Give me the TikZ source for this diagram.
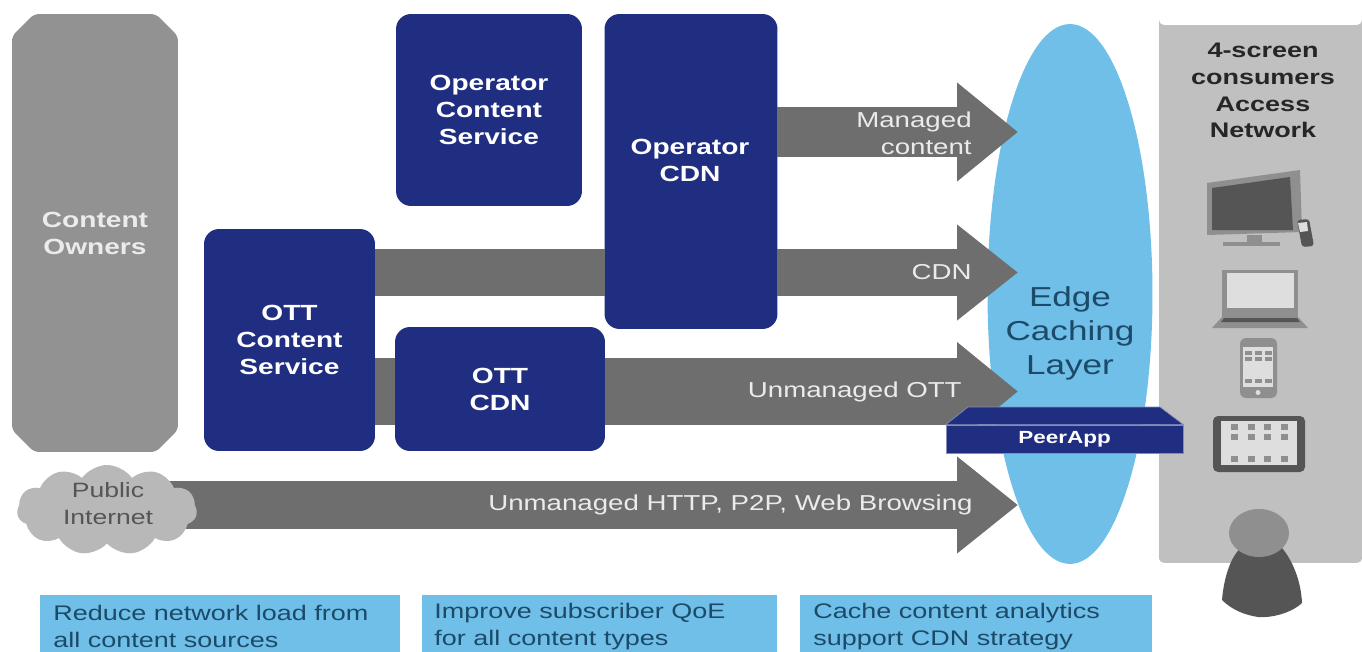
\documentclass[tikz,border=0pt]{standalone}
\usepackage{fontspec}
\setmainfont[FakeStretch=1.28]{Liberation Sans}
\usepackage{tikz}
\usetikzlibrary{arrows.meta, shapes.geometric, shapes.misc, shapes.symbols}

\definecolor{navyfill}{HTML}{1F2E80}
\definecolor{edgeblue}{HTML}{6FBFE8}
\definecolor{arrowgrey}{HTML}{6E6E6E}
\definecolor{ownergrey}{HTML}{929292}
\definecolor{panelgrey}{HTML}{C0C0C0}
\definecolor{cloudgrey}{HTML}{B8B8B8}
\definecolor{darkgrey}{HTML}{555555}
\definecolor{midgrey}{HTML}{8F8F8F}
\definecolor{screengrey}{HTML}{DEDEDE}
\definecolor{paletext}{HTML}{EBEBEB}
\definecolor{tealtext}{HTML}{1C4A68}

\tikzset{
    navybox/.style={fill=navyfill, rectangle, rounded corners=0.3cm, inner sep=0pt, outer sep=0pt, align=center, text=white, font=\fontsize{12.5}{15.3}\selectfont\bfseries},
    snipbox/.style={chamfered rectangle, chamfered rectangle xsep=0.24cm, chamfered rectangle ysep=0.2cm, rounded corners=0.1cm, inner sep=0pt, outer sep=0pt},
    notebox/.style={fill=edgeblue, rectangle, inner sep=0pt, outer sep=0pt, minimum height=1.14cm},
    notetext/.style={anchor=west, align=left, text=tealtext, inner sep=0pt, font=\fontsize{12}{15.3}\selectfont},
    arrowlabel/.style={anchor=east, align=right, text=paletext, inner sep=0pt, font=\fontsize{12.3}{15.3}\selectfont},
    bigband/.style={draw=arrowgrey, line width=#1},
    bigarrow/.style 2 args={draw=arrowgrey, line width=#1, -{Triangle[length=1.22cm, width=#2]}},
    icon/.style={rounded corners=0.06cm},
    dot/.style={fill=midgrey, rectangle, inner sep=0pt, minimum width=0.14cm, minimum height=0.12cm}
}

\begin{document}
\begin{tikzpicture}[x=0.02cm, y=-0.02cm]
    \useasboundingbox (0, 0) rectangle (1362, 652);

    \node[fill=edgeblue, ellipse, inner sep=0pt, minimum width=3.3cm, minimum height=10.8cm] at (1070, 294) (edge) {};
    \node[fill=panelgrey, snipbox, minimum width=4.06cm, minimum height=10.76cm] at (1260.5, 294) (panel) {};
    \node[fill=ownergrey, snipbox, align=center, text=paletext, font=\fontsize{12.5}{15.3}\selectfont\bfseries, minimum width=3.32cm, minimum height=8.76cm] at (95, 233) (owners) {Content\\Owners};

    \node[navybox, minimum width=3.72cm, minimum height=3.84cm] at (489, 110) (opservice) {Operator\\Content\\Service};
    \node[navybox, minimum width=3.46cm, minimum height=6.3cm] at (691, 171.5) (opcdn) {};
    \node[navybox] at (690, 160) (opcdnlabel) {Operator\\CDN};
    \node[navybox, minimum width=3.42cm, minimum height=4.44cm] at (289.5, 340) (ottservice) {OTT\\Content\\Service};
    \node[navybox, minimum width=4.2cm, minimum height=2.48cm] at (500, 389) (ottcdn) {OTT\\CDN};

    \coordinate (managedtip) at (1018, 132);
    \coordinate (cdntip) at (1018, 272.5);
    \coordinate (otttip) at (1018, 391.5);
    \coordinate (publictip) at (1018, 505);
    \coordinate (cloudcentre) at (107, 510);

    \draw[bigarrow={1.02cm}{1.9cm}] (opcdn.east |- managedtip) -- (managedtip);
    \draw[bigband=0.94cm] (ottservice.east |- cdntip) -- (opcdn.west |- cdntip);
    \draw[bigarrow={0.94cm}{1.84cm}] (opcdn.east |- cdntip) -- (cdntip);
    \draw[bigband=1.34cm] (ottservice.east |- otttip) -- (ottcdn.west |- otttip);
    \draw[bigarrow={1.34cm}{1.9cm}] (ottcdn.east |- otttip) -- (otttip);
    \draw[bigarrow={0.96cm}{1.86cm}] (cloudcentre |- publictip) -- (publictip);

    \node[fill=cloudgrey, cloud, cloud puffs=11, cloud puff arc=110, aspect=2, inner sep=0pt, minimum width=3.6cm, minimum height=1.8cm] at (cloudcentre) (cloud) {};
    \node[align=center, text=darkgrey, inner sep=0pt, font=\fontsize{11.8}{15.3}\selectfont] at (108, 504) (cloudlabel) {Public\\Internet};

    \node[arrowlabel] at (972, 133.5) (managedlabel) {Managed\\content};
    \node[arrowlabel] at (972, 272) (cdnlabel) {CDN};
    \node[arrowlabel] at (962, 392) (ottlabel) {Unmanaged OTT};
    \node[arrowlabel] at (973, 505) (publiclabel) {Unmanaged HTTP, P2P, Web Browsing};

    \node[align=center, text=tealtext, inner sep=0pt, font=\fontsize{15.6}{19.3}\selectfont] at (1070, 333.5) (edgelabel) {Edge\\Caching\\Layer};
    \node[align=center, text=black!85, inner sep=0pt, font=\fontsize{12}{15.3}\selectfont\bfseries] at (1263, 90.5) (panellabel) {4-screen\\consumers\\Access\\Network};

    % appliance on the caching layer
    \node[fill=navyfill, draw=navyfill!55!white, rectangle, inner sep=0pt, minimum width=4.74cm, minimum height=0.56cm, text=white, font=\fontsize{10}{12}\selectfont\bfseries] at (1064.5, 439) (peerapp) {PeerApp};
    \draw[fill=navyfill, draw=navyfill!55!white] (peerapp.north west) -- (968, 407) -- (1160, 407) -- (peerapp.north east) -- cycle;

    % television
    \fill[midgrey] (1207, 183) -- (1300, 170) -- (1302, 232) -- (1207, 235) -- cycle;
    \fill[darkgrey] (1212, 188) -- (1290, 177) -- (1293, 230) -- (1212, 230) -- cycle;
    \fill[midgrey] (1247, 235) rectangle (1262, 242);
    \fill[midgrey] (1223, 242) rectangle (1280, 246);
    \fill[darkgrey, icon] (1297, 220) -- (1309, 219) -- (1314, 246) -- (1302, 247) -- cycle;
    \fill[screengrey] (1298, 223) -- (1307, 222) -- (1308, 231) -- (1300, 232) -- cycle;

    % laptop
    \fill[midgrey] (1222, 270) rectangle (1298, 318);
    \fill[screengrey] (1227, 273) rectangle (1294, 308);
    \fill[midgrey] (1222, 317) -- (1298, 317) -- (1308, 328) -- (1212, 328) -- cycle;
    \fill[darkgrey] (1224, 318) -- (1297, 318) -- (1300, 322) -- (1221, 322) -- cycle;

    % phone
    \fill[midgrey, rounded corners=0.12cm] (1240, 338) rectangle (1277, 398);
    \fill[screengrey] (1243, 347) rectangle (1273, 387);
    \foreach \x in {1248, 1258, 1268} {
        \foreach \y in {353, 359, 381} {
            \node[dot, minimum width=0.14cm, minimum height=0.09cm] at (\x, \y) {};
        }
    }
    \fill[screengrey] (1258, 392.5) circle (0.05cm);

    % tablet
    \fill[darkgrey, rounded corners=0.1cm] (1213, 416) rectangle (1305, 472);
    \fill[screengrey] (1221, 421) rectangle (1297, 465);
    \foreach \x in {1234, 1251, 1267, 1284} {
        \foreach \y in {427, 437, 459} {
            \node[dot] at (\x, \y) {};
        }
    }

    % person
    \fill[darkgrey] (1222, 600) .. controls (1224, 575) and (1232, 555) .. (1241, 548) -- (1282, 548) .. controls (1292, 560) and (1301, 580) .. (1302, 603) .. controls (1290, 614) and (1270, 618) .. (1258, 617) .. controls (1245, 615) and (1232, 610) .. (1222, 600) -- cycle;
    \node[fill=midgrey, ellipse, inner sep=0pt, minimum width=1.2cm, minimum height=0.96cm] at (1259, 533) (head) {};

    \node[notebox, minimum width=7.2cm] at (220, 623.5) (noteload) {};
    \node[notetext] at (53, 626.5) (noteloadtext) {Reduce network load from\\all content sources};
    \node[notebox, minimum width=7.1cm] at (599.5, 623.5) (noteqoe) {};
    \node[notetext] at (434, 626.5) (noteqoetext) {Improve subscriber QoE\\for all content types};
    \node[notebox, minimum width=7.04cm] at (976, 623.5) (notecache) {};
    \node[notetext] at (813, 626.5) (notecachetext) {Cache content analytics\\support CDN strategy};
\end{tikzpicture}
\end{document}
